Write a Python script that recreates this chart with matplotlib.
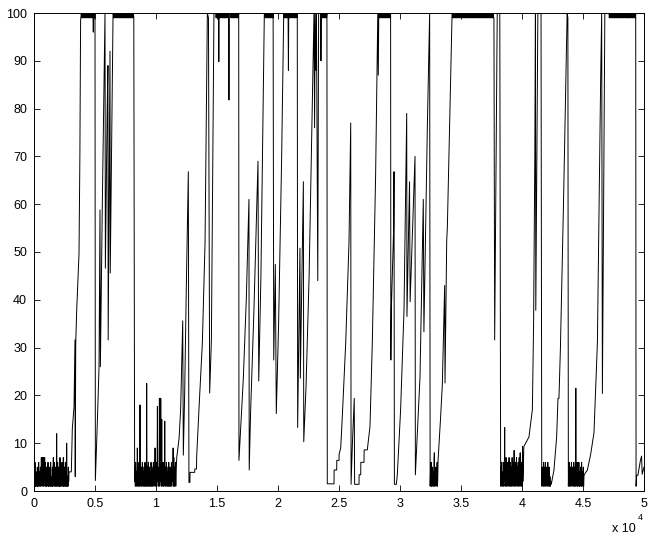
import numpy as np
import matplotlib
matplotlib.use("Agg")
import matplotlib.pyplot as plt

plt.rcParams['font.family'] = ['Liberation Sans', 'DejaVu Sans']

# ---------------- data ----------------
# low-level noise blocks (values), spanning given sample ranges
N1 = ("1 5 2 6 1 3 1 4 2 1 5 1 3 1 6 2 4 1 3 5 1 2 7 1 4 7 2 1 7 3 "
      "1 5 7 2 6 1 3 1 5 1 4 2 6 1 3 1 5 2 1 4 6 1 3 2 1 5 1 4 7 2 "
      "1 6 3 1 5 2 1 4 12 1 3 6 1 2 5 1 4 1 7 2 1 5 3 1 6 2 4 1 7 1 "
      "3 1 5 2 6 1 4 1 10 2 1 3 1 5 2 4")
N2 = ("2 5 1 6 3 1 4 2 9 1 5 2 1 6 3 1 18 2 4 1 5 3 1 6 2 4 1 5 3 1 "
      "2 6 1 4 3 1 22.5 2 5 1 3 6 1 2 5 1 4 3 1 6 2 1 5 3 1 4 6 2 1 5 "
      "3 9 1 4 2 6 1 3 17.7 2 5 1 4 3 19.4 1 6 2 19.4 3 1 15 2 5 1 6 3 1 4 2 "
      "14.6 1 5 3 1 6 2 4 1 5 3 1 6 2 1 4 5 1 3 2 6 1 4 2 5 9 1 7 3 1 "
      "5 2 6 1 4")
N3 = "1 4 2 6 1 3 1 5 2 4 1 6 8 1 3 2 5 1 4 2 6 1 3"
N4 = ("1 5 2 6 1 3 4 1 6 2 1 4 13.3 2 5 1 7 3 1 6 2 4 1 6 3 7 1 5 2 6 "
      "1 3 5 1 7 2 4 1 6 3 8.5 1 5 2 6 1 4 7 2 1 5 3 6 1 2 7 4 1 8 2 "
      "5 1 6 3 1 9.3 2 4")
N5 = "1 5 2 4 1 6 3 1 5 2 6 1 4 2 5 1 3 6 1 4 2 5 1 3 1 2"
N6 = ("1 4 2 6 1 3 5 1 2 6 3 1 5 2 4 1 6 2 1 5 3 1 21.5 2 4 1 6 3 1 5 "
      "2 6 1 4 1 3 5 2 1 6 3 1 4 2 5 1 3")

# saturated blocks near 100: depth below 100
T1 = "0 1 0 1 1 0 1 0 0 1 1 0 1 0 1 1 0 1 0 0 1 0 1 1 0 1 0 1 0 0 1 1 0 1 0 4 1 0 1 0 1"
T2 = ("0 1 1 0 1 0 0 1 0 1 1 0 1 0 1 0 0 1 1 0 1 0 1 1 0 1 0 0 1 0 "
      "1 1 0 1 0 1 0 1 1 0 0 1 0 1 1 0 1 0 1 0 0 1 1 0 1 0 1 1 0 1 0 1")
T3 = ("0 1 0 1 1 0 1 0 1 10.2 1 0 1 1 0 1 0 0 1 0 1 1 0 1 0 1 0 1 1 0 "
      "1 0 1 0 1 0 0 0 0 18.2 0 0 0 0 0 1 0 1 1 0 1 0 1 0 1 1 0 1 0 0 "
      "1 0 1 1 0 1 0 1 0")
T4 = "0 1 0 1 1 0 1 0 1 0 0 1 1 0 1 0 1 1 0 1 0 0 1 0 1 0"
T5 = ("0 1 1 0 1 0 1 0 1 1 0 1 0 12 0 1 0 1 1 0 1 0 0 1 0 1 1 0 1 0 "
      "1 0 1 1 0 1 0 0 1 0")
T6 = "0 1 0 1 1 0 1 0 1 0 1 1 0 1 0 1 0"
T7 = "0 1 1 0 1 0 1 0 0 1 1 0 1 0 1 1 0 1 0 1 0 0 1 1 0 1 0 1 1 0 1 0 1 0"
T8 = ("0 1 0 1 1 0 1 0 0 1 1 0 1 0 1 1 0 1 0 0 1 0 1 1 0 1 0 1 0 0 "
      "1 1 0 1 0 1 0 1 1 0 0 1 0 1 1 0 1 0 1 0 0 1 1 0 1 0 1 1 0 1 "
      "0 1 1 0 1 0 0 1 0 1 1 0 1 0 1 0 0 1 1 0 1 0 1 1 0 1 0 0 1 0 "
      "1 1 0 1 0 1 0 1 1 0 0 1 0 1 1 0 1 0 1 0 0 1 1 0 1 0 1 1 0 1 "
      "0 1 0 1 1")
T9 = ("0 1 0 1 1 0 1 0 0 1 1 0 1 0 1 1 0 1 0 0 1 0 1 1 0 1 0 1 0 0 "
      "1 1 0 1 0 1 0 1 1 0 0 1 0 1 1 0 1 0 1 0 0 1 1 0 1 0 1 1 0 1 "
      "0 1 1 0 1 0 0 1 0 1 1 0 1 0 1 0 0 1 1 0")

# explicit trajectories (sample index, value)
PATH_A = [(2900, 4), (3060, 4), (3140, 13), (3280, 17.6), (3360, 31.6), (3380, 3),
          (3420, 31), (3500, 37.8), (3690, 49.7), (3760, 70), (3820, 98.5)]
PATH_A2 = [(5030, 2.2), (5200, 15), (5330, 26), (5410, 58.8), (5440, 26), (5600, 60),
           (5820, 100), (5850, 46.6), (6000, 80), (6060, 89), (6080, 31.6), (6230, 92),
           (6250, 45.6), (6480, 100)]
PATH_B = [(11700, 7), (11890, 11), (12020, 17), (12190, 35.6), (12240, 7.5), (12350, 20.5),
          (12490, 43.4), (12650, 66.8), (12700, 1.8), (12780, 1.8), (12790, 3.9), (13170, 3.9),
          (13180, 4.6), (13320, 4.6), (13330, 7), (13520, 17), (13800, 31), (14020, 52),
          (14210, 100), (14300, 99), (14400, 20.5), (14540, 31.6), (14750, 100), (14880, 100)]
PATH_C = [(16800, 6.4), (16940, 13.3), (17160, 23.7), (17400, 40), (17620, 61), (17640, 4.4),
          (17760, 17), (18030, 38), (18360, 69), (18420, 23), (18600, 45), (18750, 75),
          (18880, 100)]
PATH_D = [(19650, 27.4), (19780, 47.4), (19860, 16.2), (20050, 35), (20300, 70), (20470, 100)]
PATH_E = [(21610, 13.3), (21800, 50.8), (21830, 23.6), (22080, 64.7), (22110, 10.3),
          (22300, 22), (22550, 45), (22750, 72), (22950, 100), (23000, 76), (23040, 100),
          (23100, 88), (23150, 100), (23260, 44), (23330, 100), (23500, 100), (23520, 90),
          (23550, 100)]
PATH_F = [(24040, 1.5), (24590, 1.5), (24600, 4.4), (24810, 4.4), (24820, 6.4), (25000, 6.4),
          (25010, 7.7), (25140, 9), (25270, 15.5), (25550, 31), (25820, 52), (25960, 77),
          (25990, 1.4), (26100, 10), (26250, 19.4), (26280, 1.4), (26640, 1.4), (26650, 3.4),
          (26780, 3.4), (26790, 6), (27050, 6), (27060, 8.6), (27320, 8.6), (27540, 13.5),
          (27730, 31), (28000, 65.8), (28180, 100), (28220, 87), (28260, 100)]
PATH_G = [(29250, 27.4), (29290, 38), (29480, 55), (29510, 66.8), (29540, 1.4), (29700, 1.4),
          (29780, 3.4), (30050, 17), (30330, 38), (30550, 79), (30570, 36.5), (30780, 64.7),
          (30830, 39.6), (31230, 70), (31260, 3.4), (31640, 23.9), (31910, 61), (31960, 33.3),
          (32240, 76), (32430, 100)]
PATH_H = [(33120, 6.4), (33330, 15.5), (33470, 22.3), (33660, 43), (33690, 22.6),
          (33830, 52.5), (33880, 55), (34100, 80), (34270, 100)]
PATH_I = [(37760, 31.6), (37970, 100), (38180, 100)]
PATH_J = [(40150, 9.3), (40300, 10), (40570, 11.3), (40850, 17), (40950, 35), (41050, 70),
          (41100, 100), (41130, 37.8), (41300, 100), (41560, 100)]
PATH_K = [(42400, 1.4), (42620, 4.4), (42840, 11.3), (42950, 19.4), (43030, 19.4),
          (43150, 30), (43400, 60), (43700, 100), (43760, 99)]
PATH_L = [(45100, 3.4), (45360, 4.4), (45630, 7.7), (45900, 12.2), (46180, 31),
          (46450, 86.7), (46530, 100), (46590, 20.4), (46790, 100), (47100, 100)]
PATH_M = [(49350, 1), (49400, 3.3), (49500, 3.3), (49700, 6.3), (49800, 7.3),
          (49850, 3.5), (50000, 5)]

SEQUENCE = [
    ("noise", N1, 0, 2870), ("path", PATH_A), ("top", T1, 3880, 5000), ("path", PATH_A2),
    ("top", T2, 6500, 8180), ("noise", N2, 8250, 11650), ("path", PATH_B),
    ("top", T3, 14900, 16780), ("path", PATH_C), ("top", T4, 18900, 19600),
    ("path", PATH_D), ("top", T5, 20490, 21580), ("path", PATH_E),
    ("top", T6, 23570, 24010), ("path", PATH_F), ("top", T7, 28300, 29230),
    ("path", PATH_G), ("noise", N3, 32470, 33100), ("path", PATH_H),
    ("top", T8, 34290, 37700), ("path", PATH_I), ("noise", N4, 38250, 40100),
    ("path", PATH_J), ("noise", N5, 41620, 42350), ("path", PATH_K),
    ("noise", N6, 43800, 45080), ("path", PATH_L), ("top", T9, 47130, 49320),
    ("path", PATH_M),
]

XTICKS = [0, 5000, 10000, 15000, 20000, 25000, 30000, 35000, 40000, 45000, 50000]
XTICKLABELS = ["0", "0.5", "1", "1.5", "2", "2.5", "3", "3.5", "4", "4.5", "5"]
YTICKS = [0, 10, 20, 30, 40, 50, 60, 70, 80, 90, 100]

# ---------------- assemble ----------------
xs, ys = [], []
for item in SEQUENCE:
    kind = item[0]
    if kind == "path":
        for x, y in item[1]:
            xs.append(x)
            ys.append(y)
    else:
        vals = np.array([float(v) for v in item[1].split()])
        xx = np.linspace(item[2], item[3], len(vals))
        if kind == "top":
            vals = 100 - vals
        xs.extend(xx.tolist())
        ys.extend(vals.tolist())

fig = plt.figure(figsize=(6.54, 5.38), dpi=100)
ax = fig.add_axes([34 / 654, 47 / 538, 610 / 654, 478 / 538])
ax.plot(xs, ys, color="black", lw=0.7)
ax.set_xlim(0, 50000)
ax.set_ylim(0, 100)
ax.set_xticks(XTICKS)
ax.set_xticklabels(XTICKLABELS)
ax.set_yticks(YTICKS)
ax.tick_params(direction="in", top=True, right=True, length=4, width=0.6,
               labelsize=9, pad=5)
for s in ax.spines.values():
    s.set_linewidth(0.7)
ax.text(0.987, -0.08, "x 10", transform=ax.transAxes, ha="right", va="center", fontsize=9)
ax.text(0.990, -0.056, "4", transform=ax.transAxes, ha="left", va="center", fontsize=6.5)

fig.savefig("out.png", dpi=100)
